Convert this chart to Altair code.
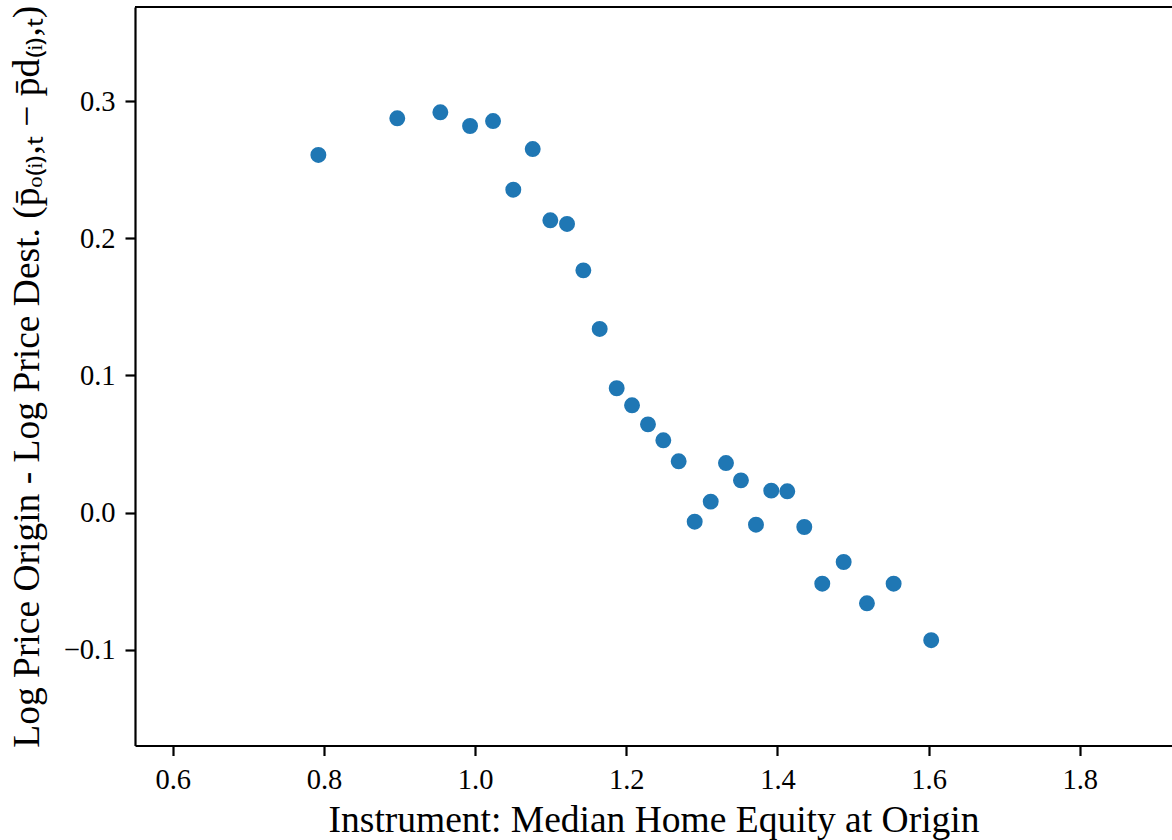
import altair as alt
import pandas as pd

# Binned means: instrument (median home equity at origin) vs. log price gap
equity = [0.7926, 0.8970, 0.9540, 0.9933, 1.0237, 1.0505, 1.0762, 1.0995,
          1.1216, 1.1432, 1.1648, 1.1873, 1.2076, 1.2287, 1.2490, 1.2693,
          1.2905, 1.3117, 1.3319, 1.3517, 1.3716, 1.3918, 1.4130, 1.4355,
          1.4593, 1.4876, 1.5184, 1.5537, 1.6034]
price_gap = [0.2607, 0.2874, 0.2918, 0.2818, 0.2854, 0.2354, 0.2650, 0.2131,
             0.2104, 0.1766, 0.1339, 0.0907, 0.0783, 0.0644, 0.0528, 0.0375,
             -0.0065, 0.0081, 0.0362, 0.0236, -0.0087, 0.0161, 0.0156, -0.0104,
             -0.0517, -0.0359, -0.0660, -0.0517, -0.0929]

x_ticks = [0.6, 0.8, 1.0, 1.2, 1.4, 1.6, 1.8]
y_ticks = [-0.1, 0.0, 0.1, 0.2, 0.3]

df = pd.DataFrame({"equity": equity, "gap": price_gap})

FONT = "Liberation Serif"
W, H = 1037, 738.5

points = alt.Chart(df).mark_circle(size=254, opacity=1, color="#1f77b4").encode(
    x=alt.X("equity:Q",
            scale=alt.Scale(domain=[0.55, 1.922], nice=False, zero=False),
            axis=alt.Axis(values=x_ticks, format=".1f",
                          title="Instrument: Median Home Equity at Origin",
                          titlePadding=7)),
    y=alt.Y("gap:Q",
            scale=alt.Scale(domain=[-0.1696, 0.3685], nice=False, zero=False),
            axis=alt.Axis(values=y_ticks, format=".1f",
                          title="Log Price Origin - Log Price Dest. (p̄ₒ₍ᵢ₎,ₜ − p̄d₍ᵢ₎,ₜ)",
                          titlePadding=17)),
)

# top spine of the frame (no right spine drawn)
top_spine = alt.Chart(df).mark_rule(color="black", strokeWidth=2.2).encode(
    x=alt.value(0), x2=alt.value(W), y=alt.value(0)
)

chart = (
    alt.layer(points, top_spine)
    .properties(width=W, height=H, background="white",
                autosize=alt.AutoSizeParams(type="none"),
                padding={"left": 135, "top": 7, "right": 0, "bottom": 94.5})
    .configure_view(stroke=None)
    .configure_axis(
        grid=False,
        domainColor="black", domainWidth=2.2,
        tickColor="black", tickWidth=2.2, tickSize=10,
        labelFont=FONT, labelFontSize=28.5, labelColor="black", labelPadding=10,
        titleFont=FONT, titleFontSize=37.5, titleFontWeight="normal", titleColor="black",
    )
)

chart.save("out.html", embed_options={"renderer": "svg", "actions": False})
